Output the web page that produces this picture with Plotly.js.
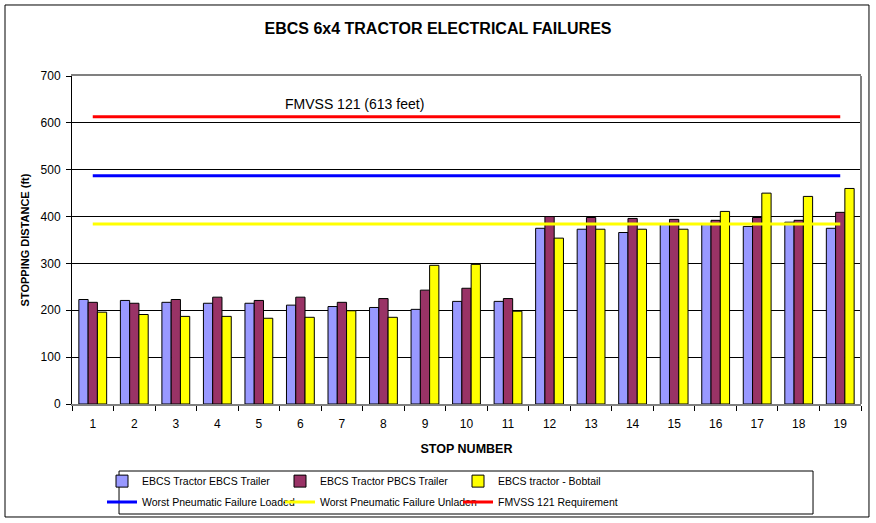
<!DOCTYPE html>
<html>
<head>
<meta charset="utf-8">
<script src="https://cdn.plot.ly/plotly-3.0.1.min.js"></script>
<style>
  html, body { margin: 0; padding: 0; background: #fff; }
  #chart { width: 876px; height: 523px; }
</style>
</head>
<body>
<div id="chart"></div>
<script>
const stops = ['1','2','3','4','5','6','7','8','9','10','11','12','13','14','15','16','17','18','19'];
const ebcsTrailer = [223, 221, 217, 215, 215, 211, 208, 206, 202, 219, 219, 375, 373, 366, 384, 384, 379, 388, 375];
const pbcsTrailer = [217, 215, 223, 228, 221, 228, 217, 225, 243, 247, 225, 400, 398, 396, 394, 392, 398, 392, 409];
const bobtail = [196, 191, 187, 187, 183, 185, 199, 185, 296, 298, 198, 354, 373, 373, 373, 411, 450, 443, 460];
const worstLoaded = 487;
const worstUnladen = 384;
const fmvssLimit = 613;

const font = 'Arial, "Liberation Sans", sans-serif';
const flat = v => stops.map(() => v);

function bar(name, y, color, legend) {
  return {
    type: 'bar', name: name, x: stops, y: y, legend: legend,
    marker: { color: color, line: { color: '#000', width: 1 } },
    hoverinfo: 'x+y'
  };
}
function line(name, v, color) {
  return {
    type: 'scatter', mode: 'lines', name: name, x: stops, y: flat(v),
    legend: 'legend2',
    line: { color: color, width: 3 }
  };
}

const traces = [
  bar('EBCS Tractor EBCS Trailer', ebcsTrailer, '#9999FF', 'legend'),
  bar('EBCS Tractor PBCS Trailer', pbcsTrailer, '#993366', 'legend'),
  bar('EBCS tractor - Bobtail', bobtail, '#FFFF00', 'legend'),
  line('Worst Pneumatic Failure Loaded', worstLoaded, '#0000FF'),
  line('Worst Pneumatic Failure Unladen', worstUnladen, '#FFFF00'),
  line('FMVSS 121 Requirement', fmvssLimit, '#FF0000')
];

const legendBase = {
  orientation: 'h', xanchor: 'left', yanchor: 'top', xref: 'container', yref: 'container',
  entrywidth: 133, bgcolor: 'rgba(0,0,0,0)',
  font: { family: font, size: 10.5, color: '#000' },
  itemwidth: 30, tracegroupgap: 0, traceorder: 'normal'
};

const layout = {
  width: 876, height: 523,
  margin: { l: 72, r: 15, t: 76, b: 119 },
  paper_bgcolor: '#fff', plot_bgcolor: '#fff',
  font: { family: font, size: 12, color: '#000' },
  title: {
    text: '<b>EBCS 6x4 TRACTOR ELECTRICAL FAILURES</b>',
    font: { family: font, size: 16, color: '#000' },
    x: 0.5, xanchor: 'center', y: 0.945, yanchor: 'middle'
  },
  barmode: 'group', bargap: 0.33, bargroupgap: 0,
  xaxis: {
    type: 'category', tickson: 'boundaries', ticks: 'outside', ticklen: 5,
    tickcolor: '#000', showline: true, linecolor: '#808080', linewidth: 2, mirror: true,
    showgrid: false, tickfont: { family: font, size: 12 }, ticklabelstandoff: 8,
    title: { text: '<b>STOP NUMBER</b>', font: { family: font, size: 12.5 }, standoff: 14 }
  },
  yaxis: {
    range: [0, 700], dtick: 100, ticks: 'outside', ticklen: 5, tickcolor: '#000',
    showline: true, linecolor: '#000', linewidth: 1,
    showgrid: true, gridcolor: '#000', gridwidth: 1, zeroline: false,
    tickfont: { family: font, size: 12 }, ticklabelstandoff: 3,
    title: { text: '<b>STOPPING DISTANCE (ft)</b>', font: { family: font, size: 11 }, standoff: 8 }
  },
  legend: Object.assign({}, legendBase, { x: 102 / 876, y: 0.1078 }),
  legend2: Object.assign({}, legendBase, { x: 102 / 876, y: 0.0677 }),
  annotations: [{
    x: 7.31 - 1, y: 640, xref: 'x', yref: 'y', text: 'FMVSS 121 (613 feet)',
    showarrow: false, font: { family: font, size: 14, color: '#000' }
  }],
  shapes: [
    { type: 'line', xref: 'paper', yref: 'paper', x0: 1, x1: 1, y0: 0, y1: 1,
      line: { color: '#808080', width: 2 } },
    { type: 'rect', xref: 'paper', yref: 'paper', x0: -0.0849, x1: 1.0101, y0: -0.3445, y1: 1.2165,
      line: { color: '#000', width: 1 } },
    { type: 'rect', xref: 'paper', yref: 'paper', x0: 0.0596, x1: 0.9392, y0: -0.3354, y1: -0.2043,
      line: { color: '#000', width: 1 } }
  ]
};

Plotly.newPlot('chart', traces, layout, { displayModeBar: false, responsive: false });
</script>
</body>
</html>
